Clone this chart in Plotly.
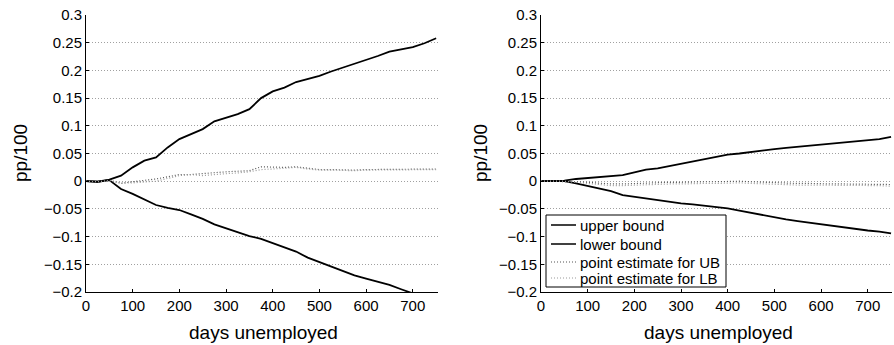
import plotly.graph_objects as go

days = list(range(0, 751, 25))

left_upper = [0, -0.001, 0.003, 0.010, 0.025, 0.037, 0.043, 0.061, 0.076, 0.085, 0.094, 0.108,
              0.114, 0.121, 0.130, 0.150, 0.162, 0.169, 0.179, 0.184, 0.190, 0.198, 0.205, 0.212,
              0.218, 0.226, 0.234, 0.238, 0.242, 0.249, 0.258]
left_lower = [0, -0.001, 0.002, -0.014, -0.023, -0.033, -0.043, -0.048, -0.052, -0.060, -0.068,
              -0.078, -0.085, -0.093, -0.099, -0.104, -0.112, -0.120, -0.127, -0.138, -0.146,
              -0.155, -0.163, -0.170, -0.176, -0.182, -0.187, -0.195, -0.202, -0.210, -0.218]
left_pe_ub = [0, -0.001, 0.002, -0.004, -0.001, 0.001, 0.004, 0.008, 0.012, 0.012, 0.014, 0.016,
              0.017, 0.018, 0.019, 0.026, 0.025, 0.025, 0.026, 0.023, 0.021, 0.021, 0.020, 0.020,
              0.021, 0.021, 0.021, 0.021, 0.022, 0.022, 0.022]
left_pe_lb = [0, -0.001, 0.001, -0.003, -0.003, -0.002, 0.000, 0.005, 0.010, 0.012, 0.010, 0.012,
              0.013, 0.015, 0.017, 0.021, 0.022, 0.024, 0.025, 0.022, 0.020, 0.020, 0.019, 0.019,
              0.020, 0.020, 0.020, 0.020, 0.021, 0.021, 0.021]

right_upper = [0, 0, 0.001, 0.004, 0.006, 0.008, 0.010, 0.011, 0.016, 0.021, 0.023, 0.027, 0.031,
               0.035, 0.040, 0.044, 0.048, 0.050, 0.053, 0.056, 0.058, 0.060, 0.062, 0.064, 0.066,
               0.069, 0.071, 0.073, 0.075, 0.076, 0.080]
right_lower = [0, 0, 0.0, -0.004, -0.009, -0.013, -0.018, -0.025, -0.028, -0.031, -0.035, -0.037,
               -0.040, -0.042, -0.044, -0.047, -0.049, -0.053, -0.057, -0.062, -0.066, -0.069,
               -0.072, -0.075, -0.078, -0.081, -0.084, -0.087, -0.089, -0.091, -0.094]
right_pe_ub = [0, 0, 0, -0.001, -0.002, -0.004, -0.005, -0.005, -0.004, -0.003, -0.003, -0.002,
               -0.002, -0.001, -0.001, -0.001, 0, 0, -0.001, -0.002, -0.003, -0.004, -0.004, -0.004,
               -0.005, -0.005, -0.005, -0.005, -0.005, -0.005, -0.006]
right_pe_lb = [0, 0, 0, -0.002, -0.004, -0.006, -0.008, -0.008, -0.007, -0.006, -0.006, -0.005,
               -0.005, -0.004, -0.004, -0.004, -0.003, -0.003, -0.004, -0.005, -0.006, -0.006,
               -0.007, -0.007, -0.007, -0.007, -0.008, -0.008, -0.008, -0.008, -0.009]

y_ticks = [0.3, 0.25, 0.2, 0.15, 0.1, 0.05, 0, -0.05, -0.1, -0.15, -0.2]
y_ticktext = ["0.3", "0.25", "0.2", "0.15", "0.1", "0.05", "0", "\u22120.05", "\u22120.1", "\u22120.15", "\u22120.2"]
x_ticks = [0, 100, 200, 300, 400, 500, 600, 700]
names = ["upper bound", "lower bound", "point estimate for UB", "point estimate for LB"]

W, H = 894, 345
FONT = "Liberation Sans, Arial, Helvetica, sans-serif"


def px(x):
    return x / W


def py(y):
    return 1 - y / H


fig = go.Figure()

styles = [dict(color="black", width=1.8, dash="solid"),
          dict(color="black", width=1.8, dash="solid"),
          dict(color="#555555", width=1.2, dash="1px,2px"),
          dict(color="#9a9a9a", width=1.2, dash="1px,2px")]

for i, ser in enumerate([left_upper, left_lower, left_pe_ub, left_pe_lb]):
    fig.add_trace(go.Scatter(x=days, y=ser, mode="lines", line=styles[i], name=names[i],
                             showlegend=False, xaxis="x", yaxis="y"))
for i, ser in enumerate([right_upper, right_lower, right_pe_ub, right_pe_lb]):
    fig.add_trace(go.Scatter(x=days, y=ser, mode="lines", line=styles[i], name=names[i],
                             showlegend=False, xaxis="x2", yaxis="y2"))

ydom = [py(292), py(15)]
common_x = dict(tickvals=x_ticks, ticks="inside", ticklen=3, tickcolor="black",
                showline=True, linecolor="black", linewidth=1, showgrid=False, zeroline=False,
                automargin=False,
                tickfont=dict(size=15, color="black", family=FONT))
common_y = dict(tickvals=y_ticks, ticktext=y_ticktext, range=[-0.2, 0.3], ticks="inside",
                ticklen=3, tickcolor="black", showline=True, linecolor="black", linewidth=1,
                showgrid=True, gridcolor="#a0a0a0", griddash="1px,2px", gridwidth=1, zeroline=False,
                automargin=False,
                tickfont=dict(size=15, color="black", family=FONT))

# manual legend (right panel)
leg_x0, leg_x1, leg_y0, leg_y1 = 546, 726, 215, 287
row_y = [225, 244, 262, 278]
shapes = [dict(type="rect", xref="paper", yref="paper", x0=px(leg_x0), x1=px(leg_x1),
               y0=py(leg_y1), y1=py(leg_y0), fillcolor="white",
               line=dict(color="black", width=1), layer="above")]
annotations = []
for i, nm in enumerate(names):
    st = styles[i]
    shapes.append(dict(type="line", xref="paper", yref="paper", x0=px(551), x1=px(576),
                       y0=py(row_y[i]), y1=py(row_y[i]), layer="above",
                       line=dict(color=st["color"], width=1.5 if i < 2 else 1.2, dash=st["dash"])))
    annotations.append(dict(text=nm, x=px(578), y=py(row_y[i]), xref="paper", yref="paper",
                            showarrow=False, font=dict(size=15), xanchor="left", yanchor="middle"))

annotations += [
    dict(text="days unemployed", x=px(263), y=py(332), xref="paper", yref="paper",
         showarrow=False, font=dict(size=19), xanchor="center", yanchor="middle"),
    dict(text="days unemployed", x=px(718), y=py(332), xref="paper", yref="paper",
         showarrow=False, font=dict(size=19), xanchor="center", yanchor="middle"),
    dict(text="pp/100", x=px(20), y=py(153), xref="paper", yref="paper", textangle=-90,
         showarrow=False, font=dict(size=19), xanchor="center", yanchor="middle"),
    dict(text="pp/100", x=px(480), y=py(153), xref="paper", yref="paper", textangle=-90,
         showarrow=False, font=dict(size=19), xanchor="center", yanchor="middle"),
]

fig.update_layout(
    width=W, height=H, margin=dict(l=0, r=0, t=0, b=0, pad=0, autoexpand=False),
    paper_bgcolor="white", plot_bgcolor="white",
    font=dict(family=FONT, color="black"),
    showlegend=False,
    xaxis=dict(domain=[px(86), px(438)], range=[0, 754], anchor="y", **common_x),
    yaxis=dict(domain=ydom, anchor="x", **common_y),
    xaxis2=dict(domain=[px(541), px(892)], range=[0, 752], anchor="y2", **common_x),
    yaxis2=dict(domain=ydom, anchor="x2", **common_y),
    shapes=shapes,
    annotations=annotations,
)

fig.write_html("out.html")
